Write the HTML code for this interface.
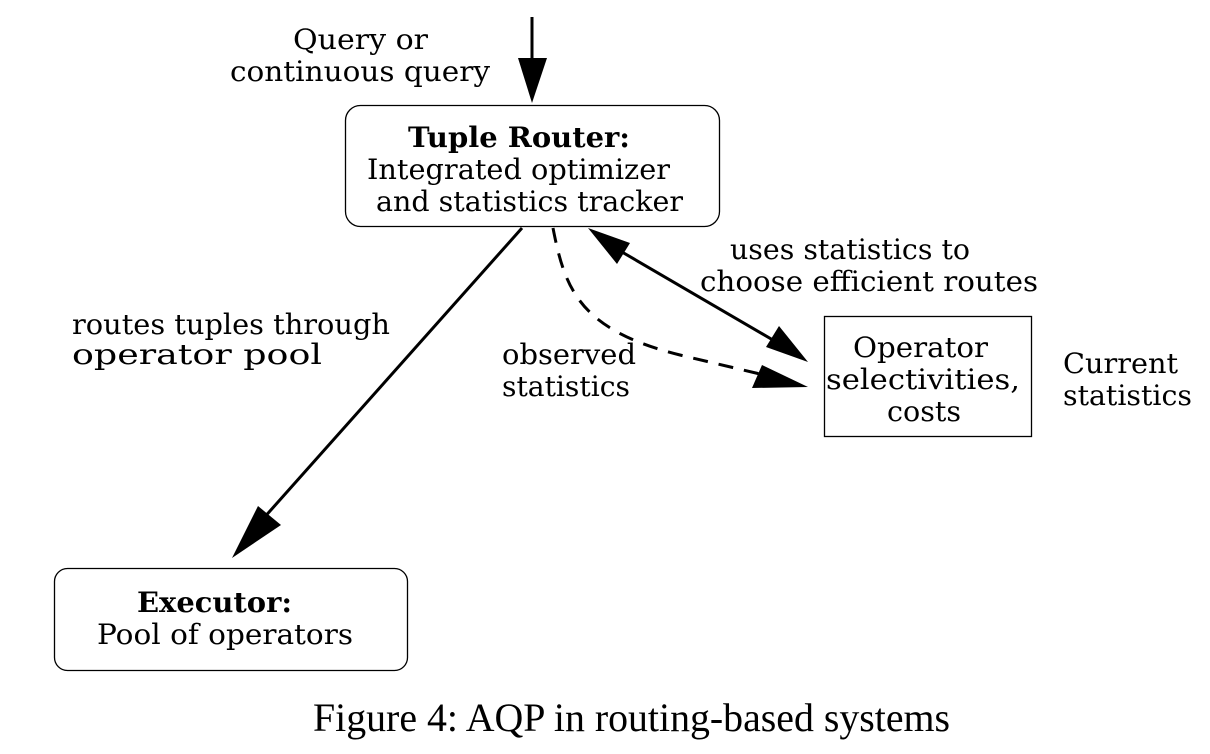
<!DOCTYPE html>
<html><head><style>
html,body{margin:0;padding:0;background:#fff;}
svg{display:block;}
text{font-family:"DejaVu Serif","Liberation Serif",serif;font-size:28px;fill:#000;}
</style></head><body>
<svg width="1210" height="754" viewBox="0 0 1210 754">
<text x="293" y="49" textLength="135" lengthAdjust="spacingAndGlyphs">Query or</text>
<text x="230" y="81" textLength="260" lengthAdjust="spacingAndGlyphs">continuous query</text>
<line x1="532" y1="17" x2="532" y2="58" stroke="#000" stroke-width="3"/>
<path d="M518,58 L547,58 L532,103 z"/>
<rect x="345.5" y="105.5" width="374" height="121" rx="15" fill="none" stroke="#000" stroke-width="1.3"/>
<text x="408" y="147" font-weight="bold" textLength="222" lengthAdjust="spacingAndGlyphs">Tuple Router:</text>
<text x="367" y="179" textLength="303" lengthAdjust="spacingAndGlyphs">Integrated optimizer</text>
<text x="376" y="211" textLength="307" lengthAdjust="spacingAndGlyphs">and statistics tracker</text>
<line x1="522" y1="228" x2="262" y2="520" stroke="#000" stroke-width="3"/>
<path d="M258,506 L281,525 L232,558 z"/>
<text x="72" y="334" textLength="318" lengthAdjust="spacingAndGlyphs">routes tuples through</text>
<text x="72" y="364" textLength="250" lengthAdjust="spacingAndGlyphs">operator pool</text>
<path d="M553,228 C565,290 580,330 680,355 L760,374" fill="none" stroke="#000" stroke-width="3" stroke-dasharray="15,11"/>
<path d="M762,365 L752,388 L808,387 z"/>
<text x="502" y="364" textLength="134" lengthAdjust="spacingAndGlyphs">observed</text>
<text x="502" y="396" textLength="128" lengthAdjust="spacingAndGlyphs">statistics</text>
<line x1="610" y1="245" x2="790" y2="350" stroke="#000" stroke-width="3"/>
<path d="M588,228 L630,243 L617,264 z"/>
<path d="M808,362 L766,347 L779,326 z"/>
<text x="730" y="259" textLength="240" lengthAdjust="spacingAndGlyphs">uses statistics to</text>
<text x="700" y="291" textLength="338" lengthAdjust="spacingAndGlyphs">choose efficient routes</text>
<rect x="824.5" y="316.5" width="207" height="120" fill="none" stroke="#000" stroke-width="1.3"/>
<text x="853" y="357" textLength="135" lengthAdjust="spacingAndGlyphs">Operator</text>
<text x="826" y="389" textLength="194" lengthAdjust="spacingAndGlyphs">selectivities,</text>
<text x="887" y="421" textLength="74" lengthAdjust="spacingAndGlyphs">costs</text>
<text x="1063" y="373" textLength="115" lengthAdjust="spacingAndGlyphs">Current</text>
<text x="1063" y="405" textLength="129" lengthAdjust="spacingAndGlyphs">statistics</text>
<rect x="54.5" y="568.5" width="353" height="102" rx="13" fill="none" stroke="#000" stroke-width="1.3"/>
<text x="137" y="612" font-weight="bold" textLength="155" lengthAdjust="spacingAndGlyphs">Executor:</text>
<text x="97" y="644" textLength="256" lengthAdjust="spacingAndGlyphs">Pool of operators</text>
<text x="313" y="731" style="font-family:'Liberation Serif',serif;font-size:40px" textLength="637" lengthAdjust="spacingAndGlyphs">Figure 4: AQP in routing-based systems</text>
</svg>
</body></html>
